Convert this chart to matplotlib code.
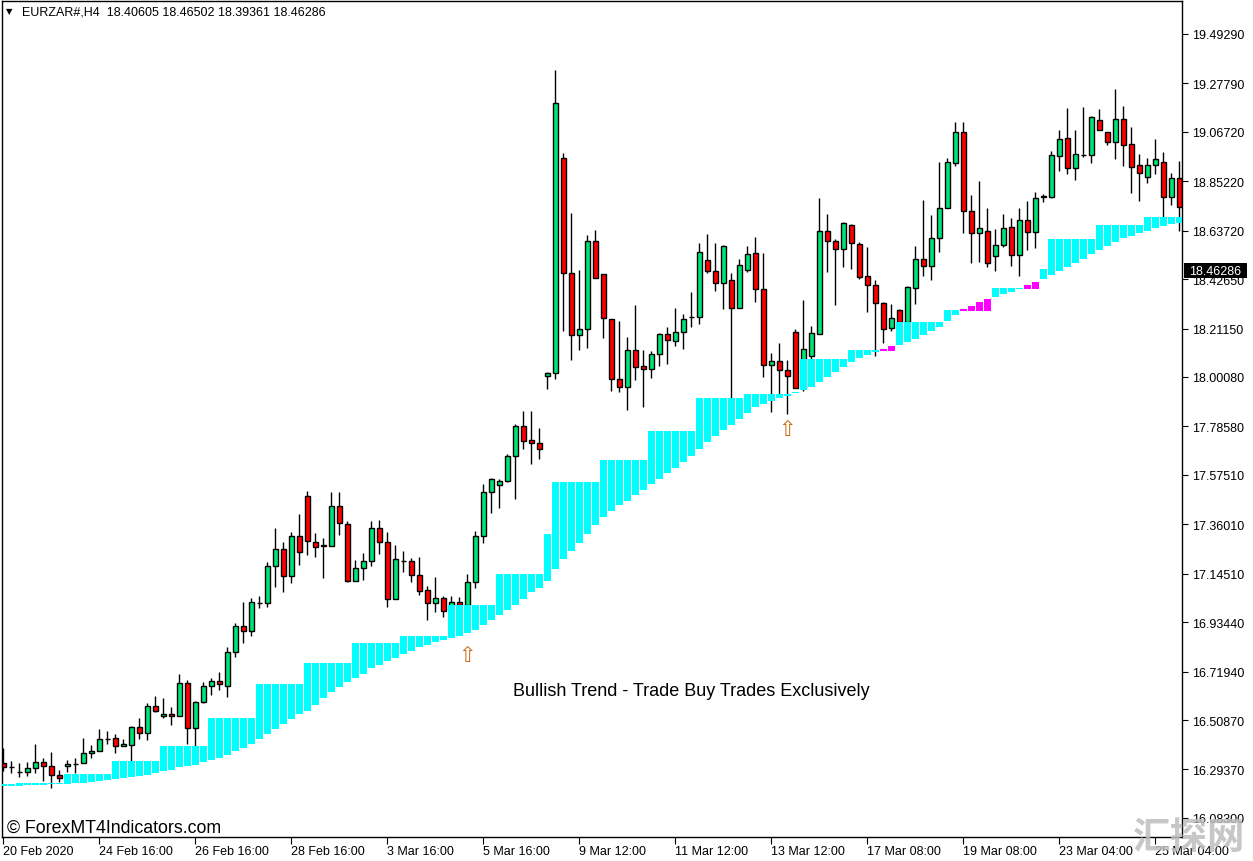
import numpy as np
import matplotlib
matplotlib.use("Agg")
import matplotlib.pyplot as plt
from matplotlib.patches import Rectangle
from matplotlib.transforms import blended_transform_factory

plt.rcParams['font.family'] = ['Liberation Sans', 'DejaVu Sans']

# EURZAR H4 candles
opens = [16.320, 16.303, 16.281, 16.281, 16.299, 16.325, 16.307, 16.268, 16.307, 16.317,
         16.320, 16.364, 16.373, 16.427, 16.429, 16.394, 16.401, 16.477, 16.451, 16.568,
         16.525, 16.533, 16.525, 16.668, 16.473, 16.586, 16.655, 16.677, 16.658, 16.803,
         16.916, 16.897, 17.018, 17.018, 17.177, 17.251, 17.134, 17.308, 17.482, 17.282,
         17.267, 17.267, 17.438, 17.360, 17.115, 17.169, 17.199, 17.343, 17.282, 17.034,
         17.199, 17.199, 17.139, 17.074, 17.016, 17.041, 17.006, 17.021, 17.009, 17.108,
         17.309, 17.499, 17.531, 17.547, 17.656, 17.786, 17.725, 17.712, 18.004, 18.017,
         18.952, 18.452, 18.185, 18.208, 18.594, 18.447, 18.252, 17.991, 17.956, 18.117,
         18.047, 18.034, 18.102, 18.187, 18.159, 18.195, 18.260, 18.260, 18.508, 18.460,
         18.408, 18.422, 18.302, 18.465, 18.539, 18.382, 18.052, 18.069, 18.033, 18.195,
         17.952, 18.091, 18.187, 18.634, 18.591, 18.556, 18.660, 18.578, 18.439, 18.399,
         18.321, 18.213, 18.291, 18.239, 18.387, 18.513, 18.482, 18.604, 18.735, 18.930,
         19.065, 18.722, 18.626, 18.634, 18.526, 18.574, 18.652, 18.530, 18.682, 18.633,
         18.785, 18.785, 18.961, 19.039, 18.909, 18.965, 18.965, 19.117, 19.065, 19.022,
         19.122, 19.013, 18.922, 18.869, 18.922, 18.935, 18.782, 18.865]
highs = [16.386, 16.330, 16.322, 16.326, 16.404, 16.343, 16.369, 16.291, 16.335, 16.343,
         16.430, 16.400, 16.470, 16.461, 16.446, 16.426, 16.484, 16.517, 16.583, 16.612,
         16.604, 16.564, 16.709, 16.683, 16.593, 16.673, 16.690, 16.717, 16.825, 16.929,
         17.021, 17.039, 17.049, 17.195, 17.343, 17.282, 17.325, 17.405, 17.505, 17.321,
         17.299, 17.500, 17.500, 17.376, 17.206, 17.235, 17.374, 17.377, 17.326, 17.270,
         17.242, 17.213, 17.218, 17.093, 17.129, 17.049, 17.048, 17.042, 17.142, 17.330,
         17.534, 17.561, 17.558, 17.666, 17.795, 17.851, 17.851, 17.781, 18.024, 19.336,
         18.974, 18.713, 18.466, 18.618, 18.639, 18.447, 18.252, 18.243, 18.173, 18.313,
         18.117, 18.113, 18.192, 18.217, 18.301, 18.274, 18.370, 18.584, 18.623, 18.584,
         18.575, 18.452, 18.513, 18.569, 18.608, 18.540, 18.104, 18.148, 18.073, 18.208,
         18.336, 18.223, 18.779, 18.710, 18.601, 18.674, 18.666, 18.588, 18.566, 18.422,
         18.326, 18.317, 18.297, 18.397, 18.571, 18.771, 18.705, 18.935, 18.952, 19.109,
         19.109, 18.792, 18.853, 18.736, 18.645, 18.708, 18.691, 18.736, 18.766, 18.805,
         18.795, 18.984, 19.075, 19.171, 19.074, 19.175, 19.137, 19.167, 19.065, 19.254,
         19.180, 19.087, 18.969, 18.952, 19.036, 18.981, 18.887, 18.942]
lows = [16.287, 16.278, 16.262, 16.266, 16.279, 16.245, 16.214, 16.240, 16.284, 16.279,
        16.320, 16.342, 16.373, 16.404, 16.365, 16.394, 16.332, 16.426, 16.423, 16.542,
        16.516, 16.488, 16.525, 16.404, 16.397, 16.581, 16.619, 16.640, 16.610, 16.781,
        16.842, 16.873, 16.995, 16.999, 17.086, 17.064, 17.103, 17.184, 17.228, 17.219,
        17.125, 17.267, 17.315, 17.110, 17.112, 17.119, 17.180, 17.232, 17.002, 17.034,
        17.154, 17.110, 17.052, 16.945, 16.977, 16.958, 16.996, 16.996, 17.009, 17.084,
        17.279, 17.410, 17.430, 17.545, 17.470, 17.687, 17.622, 17.644, 17.948, 17.992,
        18.202, 18.076, 18.120, 18.128, 18.430, 18.172, 17.941, 17.937, 17.858, 17.989,
        17.871, 17.998, 18.050, 18.059, 18.137, 18.124, 18.220, 18.231, 18.452, 18.376,
        18.298, 17.909, 18.300, 18.456, 18.326, 18.002, 17.850, 17.919, 17.840, 17.952,
        17.941, 18.079, 18.187, 18.459, 18.315, 18.481, 18.472, 18.427, 18.285, 18.093,
        18.150, 18.202, 18.231, 18.231, 18.317, 18.440, 18.424, 18.543, 18.735, 18.920,
        18.627, 18.498, 18.500, 18.481, 18.463, 18.566, 18.482, 18.439, 18.554, 18.563,
        18.763, 18.778, 18.898, 18.885, 18.859, 18.958, 18.933, 19.073, 19.009, 18.950,
        18.920, 18.802, 18.768, 18.843, 18.882, 18.688, 18.750, 18.637]
closes = [16.303, 16.304, 16.282, 16.299, 16.325, 16.307, 16.268, 16.255, 16.317, 16.318,
          16.364, 16.374, 16.426, 16.428, 16.394, 16.403, 16.477, 16.451, 16.568, 16.546,
          16.533, 16.525, 16.668, 16.473, 16.586, 16.655, 16.677, 16.664, 16.803, 16.916,
          16.897, 17.021, 17.019, 17.180, 17.251, 17.134, 17.308, 17.238, 17.286, 17.260,
          17.268, 17.438, 17.364, 17.115, 17.169, 17.199, 17.343, 17.282, 17.034, 17.208,
          17.200, 17.139, 17.071, 17.016, 17.041, 16.984, 17.021, 17.009, 17.108, 17.309,
          17.499, 17.556, 17.547, 17.656, 17.786, 17.724, 17.712, 17.686, 18.018, 19.191,
          18.452, 18.185, 18.208, 18.594, 18.430, 18.256, 17.991, 17.956, 18.117, 18.043,
          18.037, 18.100, 18.187, 18.163, 18.195, 18.252, 18.261, 18.543, 18.460, 18.408,
          18.569, 18.300, 18.487, 18.535, 18.382, 18.052, 18.069, 18.030, 18.004, 17.952,
          18.121, 18.191, 18.634, 18.591, 18.556, 18.669, 18.582, 18.437, 18.399, 18.321,
          18.208, 18.256, 18.239, 18.392, 18.513, 18.482, 18.604, 18.735, 18.935, 19.065,
          18.722, 18.626, 18.647, 18.495, 18.574, 18.647, 18.530, 18.682, 18.630, 18.779,
          18.786, 18.965, 19.035, 18.909, 18.970, 18.966, 19.130, 19.073, 19.023, 19.122,
          19.009, 18.913, 18.887, 18.922, 18.948, 18.782, 18.865, 18.739]

# trend indicator histogram: upper / lower buffer
trend_top = [16.230, 16.230, 16.235, 16.235, 16.235, 16.235, 16.235, 16.235, 16.274, 16.274,
             16.274, 16.274, 16.274, 16.274, 16.330, 16.330, 16.330, 16.330, 16.330, 16.330,
             16.397, 16.397, 16.397, 16.397, 16.397, 16.397, 16.517, 16.517, 16.517, 16.517,
             16.517, 16.517, 16.665, 16.665, 16.665, 16.665, 16.665, 16.665, 16.757, 16.757,
             16.757, 16.757, 16.757, 16.757, 16.844, 16.844, 16.844, 16.844, 16.844, 16.844,
             16.874, 16.874, 16.874, 16.874, 16.874, 16.874, 17.009, 17.009, 17.009, 17.009,
             17.009, 17.009, 17.144, 17.144, 17.144, 17.144, 17.144, 17.144, 17.318, 17.543,
             17.543, 17.543, 17.543, 17.543, 17.543, 17.640, 17.640, 17.640, 17.640, 17.640,
             17.640, 17.766, 17.766, 17.766, 17.766, 17.766, 17.766, 17.909, 17.909, 17.909,
             17.909, 17.909, 17.909, 17.927, 17.927, 17.927, 17.927, 17.927, 17.927, 17.937,
             18.079, 18.079, 18.079, 18.079, 18.079, 18.079, 18.118, 18.118, 18.118, 18.118,
             18.121, 18.136, 18.240, 18.240, 18.240, 18.240, 18.240, 18.240, 18.292, 18.292,
             18.297, 18.310, 18.326, 18.340, 18.388, 18.388, 18.388, 18.388, 18.401, 18.415,
             18.470, 18.601, 18.601, 18.601, 18.601, 18.601, 18.601, 18.662, 18.662, 18.662,
             18.662, 18.662, 18.662, 18.698, 18.698, 18.698, 18.698, 18.698]
trend_bot = [16.223, 16.223, 16.223, 16.228, 16.228, 16.228, 16.230, 16.230, 16.230, 16.233,
             16.236, 16.240, 16.244, 16.248, 16.254, 16.258, 16.262, 16.267, 16.271, 16.280,
             16.287, 16.292, 16.304, 16.310, 16.315, 16.326, 16.336, 16.344, 16.357, 16.375,
             16.388, 16.404, 16.427, 16.448, 16.470, 16.491, 16.514, 16.535, 16.548, 16.574,
             16.604, 16.629, 16.654, 16.676, 16.693, 16.710, 16.734, 16.750, 16.767, 16.780,
             16.796, 16.810, 16.828, 16.836, 16.849, 16.858, 16.865, 16.874, 16.888, 16.901,
             16.922, 16.944, 16.967, 16.989, 17.010, 17.036, 17.064, 17.083, 17.115, 17.166,
             17.209, 17.244, 17.279, 17.318, 17.357, 17.392, 17.418, 17.444, 17.461, 17.487,
             17.509, 17.535, 17.557, 17.583, 17.605, 17.631, 17.657, 17.687, 17.718, 17.744,
             17.770, 17.792, 17.819, 17.845, 17.871, 17.883, 17.898, 17.909, 17.917, 17.933,
             17.944, 17.958, 17.980, 18.002, 18.024, 18.046, 18.067, 18.083, 18.098, 18.109,
             18.115, 18.115, 18.141, 18.154, 18.167, 18.185, 18.202, 18.220, 18.246, 18.272,
             18.289, 18.289, 18.289, 18.289, 18.350, 18.362, 18.372, 18.384, 18.384, 18.384,
             18.427, 18.445, 18.461, 18.481, 18.497, 18.513, 18.536, 18.554, 18.571, 18.588,
             18.605, 18.614, 18.628, 18.637, 18.649, 18.659, 18.666, 18.671]
# bars where the indicator switches to its "weak" colour
weak_bars = [110, 111, 120, 121, 122, 123, 128, 129]

# buy arrows (bar index, price)
arrow_bars = [58, 98]
arrow_prices = [16.792, 17.775]

price_ticks = [19.4929, 19.2779, 19.0672, 18.8522, 18.6372, 18.4265, 18.2115, 18.0008, 17.7858,
               17.5751, 17.3601, 17.1451, 16.9344, 16.7194, 16.5087, 16.2937, 16.0830]
time_tick_bars = [0, 12, 24, 36, 48, 60, 72, 84, 96, 108, 120, 132, 144]
time_labels = ['20 Feb 2020', '24 Feb 16:00', '26 Feb 16:00', '28 Feb 16:00', '3 Mar 16:00',
               '5 Mar 16:00', '9 Mar 12:00', '11 Mar 12:00', '13 Mar 12:00', '17 Mar 08:00',
               '19 Mar 08:00', '23 Mar 04:00', '25 Mar 04:00']
last_price = 18.46286

W, H = 1253, 862
fig = plt.figure(figsize=(W / 100, H / 100), dpi=100)
ax = fig.add_axes([2 / W, 24 / H, 1180.3 / W, 836 / H])

o = np.array(opens)
c = np.array(closes)
x = np.arange(len(o))
up = c >= o

ax.vlines(x, lows, highs, color='black', lw=1, zorder=2)
ax.bar(x, np.abs(c - o), bottom=np.minimum(o, c), width=0.62,
       color=np.where(up, '#00E676', '#FF0000'), edgecolor='black', linewidth=1, zorder=2.5)

top = np.array(trend_top)
bot = np.array(trend_bot)
tcol = ['#FF00FF' if i in weak_bars else '#00FFFF' for i in x]
ax.bar(x, top - bot, bottom=bot, width=0.84, color=tcol, linewidth=0, zorder=3)

for xb, yb in zip(arrow_bars, arrow_prices):
    ax.text(xb, yb, '\u21e7', family=['DejaVu Sans'], fontsize=15, color='#C86A10',
            ha='center', va='center', zorder=4)

ax.set_xlim(-0.1625, 147.375)
ax.set_ylim(16.000, 19.636)

ax.yaxis.tick_right()
ax.set_yticks(price_ticks)
ax.set_yticklabels(['%.5f' % p for p in price_ticks])
ax.tick_params(axis='y', direction='out', length=4, pad=3, labelsize=9, colors='black')
ax.set_xticks(time_tick_bars)
ax.set_xticklabels(time_labels, ha='left')
ax.tick_params(axis='x', direction='out', length=5, pad=1, labelsize=9)
for s in ax.spines.values():
    s.set_color('black')
    s.set_linewidth(1)

# current price marker on the price scale
tr = blended_transform_factory(ax.transAxes, ax.transData)
ax.add_patch(Rectangle((1.0014, last_price - 0.033), 0.0534, 0.066, transform=tr,
                       facecolor='black', edgecolor='none', clip_on=False, zorder=5))
ax.text(1.0057, last_price, '%.5f' % last_price, transform=tr, color='white', fontsize=9,
        va='center', ha='left', clip_on=False, zorder=6)

fig.text(6 / W, 1 - 12 / H, '\u25bc', fontsize=6, va='center', family=['DejaVu Sans'])
fig.text(21.7 / W, 1 - 12.5 / H, 'EURZAR#,H4  18.40605 18.46502 18.39361 18.46286',
         fontsize=9, va='center')
fig.text(691 / W, 1 - 692 / H, 'Bullish Trend - Trade Buy Trades Exclusively',
         fontsize=13, ha='center', va='center')
fig.text(7 / W, 1 - 828 / H, '\u00a9 ForexMT4Indicators.com', fontsize=12.8, va='center')
fig.text(1188 / W, 1 - 838 / H, '汇探网', family=['Noto Sans CJK SC'], fontsize=27,
         weight='bold', color='#bdbdbd', alpha=0.85, ha='center', va='center', zorder=10)

fig.savefig('out.png', dpi=100, facecolor='white')
